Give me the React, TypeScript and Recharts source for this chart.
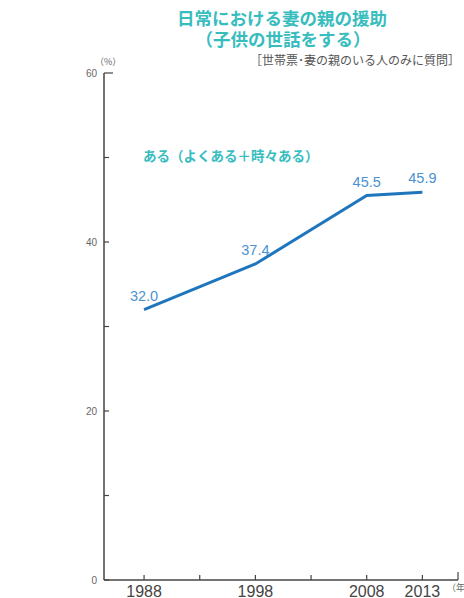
import React from 'react';
import { LineChart, Line, XAxis, YAxis, LabelList } from 'recharts';

// survey years and share answering "ある" (%)
const years = [1988, 1998, 2008, 2013];
const shares = [32.0, 37.4, 45.5, 45.9];

const xTicks = [1988, 1993, 1998, 2003, 2008, 2013];
const xLabelled = [1988, 1998, 2008, 2013];
const xDomain: [number, number] = [1984.4, 2016.2];

const yTicks = [0, 10, 20, 30, 40, 50, 60];
const yLabelled = [0, 20, 40, 60];

const data = years.map((year, i) => ({ year, share: shares[i] }));

const TEAL = '#38bdbf';
const LINE_BLUE = '#1f76bd';
const LABEL_BLUE = '#4a92d2';
const AXIS = '#444';
const CJK = '"Noto Sans CJK JP", "Noto Sans", sans-serif';
const LATIN = '"Liberation Sans", Arial, sans-serif';

const YTick = (props: any) => {
    const { x, y, payload } = props;
    const v = payload.value;
    const len = v === 60 ? 9 : 5;
    return (
        <g>
            <line x1={x} x2={x + len} y1={y} y2={y} stroke={AXIS} strokeWidth={1.2} />
            {yLabelled.includes(v) && (
                <text x={x - 7} y={y} dy={3.5} textAnchor="end" fontSize={10} fill="#666" fontFamily={LATIN}>
                    {v}
                </text>
            )}
        </g>
    );
};

const XTick = (props: any) => {
    const { x, y, payload } = props;
    const v = payload.value;
    const isEnd = v === xDomain[1];
    return (
        <g>
            <line x1={x} x2={x} y1={y} y2={y - (isEnd ? 8 : 5)} stroke={AXIS} strokeWidth={1.2} />
            {xLabelled.includes(v) && (
                <text x={x} y={y + 17} textAnchor="middle" fontSize={16} fill="#444" fontFamily={LATIN}>
                    {v}
                </text>
            )}
        </g>
    );
};

export default function App() {
    return (
        <div style={{ position: 'absolute', left: 0, top: 0, width: 464, height: 598, background: '#fff', overflow: 'hidden' }}>
            <LineChart width={464} height={598} data={data} margin={{ top: 73, right: 6, bottom: 0, left: 0 }}>
                <XAxis
                    dataKey="year"
                    type="number"
                    domain={xDomain}
                    ticks={[...xTicks, xDomain[1]]}
                    height={18}
                    tickLine={false}
                    tickSize={0}
                    tickMargin={0}
                    tick={<XTick />}
                    stroke={AXIS}
                    strokeWidth={1.5}
                    interval={0}
                />
                <YAxis
                    type="number"
                    domain={[0, 60]}
                    ticks={yTicks}
                    width={104}
                    tickLine={false}
                    tickSize={0}
                    tickMargin={0}
                    tick={<YTick />}
                    stroke={AXIS}
                    strokeWidth={1.5}
                    interval={0}
                />
                <Line
                    dataKey="share"
                    stroke={LINE_BLUE}
                    strokeWidth={3}
                    dot={false}
                    activeDot={false}
                    isAnimationActive={false}
                >
                    <LabelList
                        dataKey="share"
                        position="top"
                        offset={9}
                        fontSize={14.5}
                        fill={LABEL_BLUE}
                        fontFamily={LATIN}
                        formatter={(v: any) => Number(v).toFixed(1)}
                    />
                </Line>
            </LineChart>

            <div style={{ position: 'absolute', left: 0, width: 564, top: 8, textAlign: 'center', fontFamily: CJK, fontWeight: 700, fontSize: 17.5, lineHeight: '19px', color: TEAL, whiteSpace: 'nowrap' }}>
                日常における妻の親の援助
            </div>
            <div style={{ position: 'absolute', left: 0, width: 566, top: 29, textAlign: 'center', fontFamily: CJK, fontWeight: 700, fontSize: 17.5, lineHeight: '19px', color: TEAL, whiteSpace: 'nowrap' }}>
                （子供の世話をする）
            </div>
            <div style={{ position: 'absolute', right: 4, top: 52, fontFamily: CJK, fontSize: 12, lineHeight: '16px', color: '#555', whiteSpace: 'nowrap' }}>
                ［世帯票･妻の親のいる人のみに質問］
            </div>
            <div style={{ position: 'absolute', left: 95, top: 56, fontFamily: CJK, fontSize: 9, lineHeight: '11px', color: '#666' }}>
                （%）
            </div>
            <div style={{ position: 'absolute', left: 143, top: 146, fontFamily: CJK, fontWeight: 700, fontSize: 13.5, lineHeight: '18px', color: TEAL, whiteSpace: 'nowrap' }}>
                ある（よくある＋時々ある）
            </div>
            <div style={{ position: 'absolute', left: 447, top: 582, fontFamily: CJK, fontSize: 9, lineHeight: '11px', color: '#666', whiteSpace: 'nowrap' }}>
                （年）
            </div>
        </div>
    );
}
